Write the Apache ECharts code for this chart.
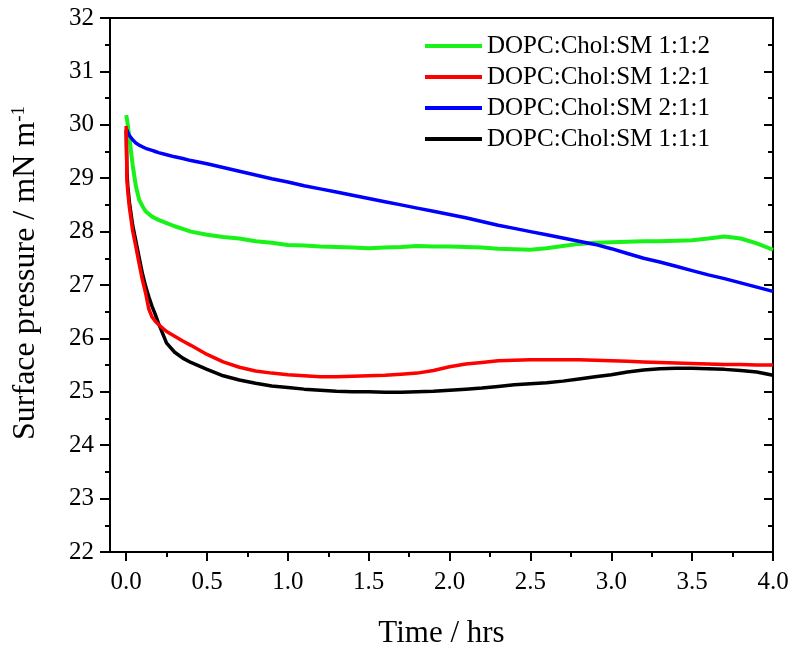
<!DOCTYPE html>
<html>
<head>
<meta charset="utf-8">
<script src="https://cdn.jsdelivr.net/npm/echarts@6/dist/echarts.min.js"></script>
<style>html,body{margin:0;padding:0;background:#fff}#c{width:796px;height:654px}</style>
</head>
<body>
<div id="c"></div>
<script>
// Time (hrs)
const time = [0, 0.005, 0.01, 0.02, 0.04, 0.06, 0.08, 0.1, 0.12, 0.14, 0.16, 0.18, 0.2, 0.25, 0.3, 0.35, 0.4, 0.5, 0.6, 0.7, 0.8, 0.9, 1.0, 1.1, 1.2, 1.3, 1.4, 1.5, 1.6, 1.7, 1.8, 1.9, 2.0, 2.1, 2.2, 2.3, 2.4, 2.5, 2.6, 2.7, 2.8, 2.9, 3.0, 3.1, 3.2, 3.3, 3.4, 3.5, 3.6, 3.7, 3.8, 3.9, 4.0];
// Surface pressure (mN/m)
const green112 = [30.18, 30.1, 30.0, 29.75, 29.25, 28.85, 28.6, 28.48, 28.38, 28.33, 28.28, 28.25, 28.22, 28.16, 28.1, 28.05, 28.0, 27.94, 27.9, 27.87, 27.82, 27.79, 27.75, 27.74, 27.72, 27.71, 27.7, 27.69, 27.7, 27.71, 27.73, 27.72, 27.72, 27.71, 27.7, 27.68, 27.67, 27.66, 27.69, 27.73, 27.77, 27.79, 27.8, 27.81, 27.82, 27.82, 27.83, 27.84, 27.87, 27.91, 27.87, 27.78, 27.66];
const red121 = [29.98, 28.95, 28.75, 28.45, 28.02, 27.72, 27.4, 27.1, 26.85, 26.55, 26.4, 26.32, 26.26, 26.13, 26.04, 25.95, 25.87, 25.7, 25.56, 25.46, 25.39, 25.35, 25.32, 25.3, 25.28, 25.28, 25.29, 25.3, 25.31, 25.33, 25.35, 25.4, 25.47, 25.52, 25.55, 25.58, 25.59, 25.6, 25.6, 25.6, 25.6, 25.59, 25.58, 25.57, 25.56, 25.55, 25.54, 25.53, 25.52, 25.51, 25.51, 25.5, 25.5];
const blue211 = [29.93, 29.9, 29.86, 29.8, 29.72, 29.66, 29.62, 29.59, 29.56, 29.54, 29.52, 29.5, 29.48, 29.44, 29.4, 29.37, 29.33, 29.27, 29.2, 29.13, 29.06, 28.99, 28.93, 28.86, 28.8, 28.74, 28.68, 28.62, 28.56, 28.5, 28.44, 28.38, 28.32, 28.26, 28.19, 28.12, 28.06, 28.0, 27.94, 27.88, 27.82, 27.76, 27.68, 27.59, 27.5, 27.43, 27.35, 27.27, 27.19, 27.12, 27.04, 26.96, 26.88];
const black111 = [29.9, 29.1, 28.85, 28.55, 28.12, 27.82, 27.52, 27.22, 26.98, 26.78, 26.6, 26.45, 26.28, 25.91, 25.74, 25.63, 25.55, 25.42, 25.3, 25.22, 25.16, 25.11, 25.08, 25.05, 25.03, 25.01, 25.0, 25.0, 24.99, 24.99, 25.0, 25.01, 25.03, 25.05, 25.07, 25.1, 25.13, 25.15, 25.17, 25.2, 25.24, 25.28, 25.32, 25.37, 25.41, 25.43, 25.44, 25.44, 25.43, 25.42, 25.4, 25.37, 25.31];
const seriesNames = ['DOPC:Chol:SM 1:1:2', 'DOPC:Chol:SM 1:2:1', 'DOPC:Chol:SM 2:1:1', 'DOPC:Chol:SM 1:1:1'];
const xMajorTicks = [0, 0.5, 1.0, 1.5, 2.0, 2.5, 3.0, 3.5, 4.0];
const xMinorTicks = [0.25, 0.75, 1.25, 1.75, 2.25, 2.75, 3.25, 3.75];

const pair = vals => time.map((t, i) => [t, vals[i]]);
const FONT = '"Liberation Serif", "Times New Roman", serif';
const chart = echarts.init(document.getElementById('c'), null, {renderer: 'canvas'});
const axisLine = {show: true, onZero: false, lineStyle: {color: '#000', width: 2}};
chart.setOption({
  backgroundColor: '#fff',
  animation: false,
  grid: {left: 110, top: 18, right: 23, bottom: 102, outerBoundsMode: 'none', containLabel: false},
  legend: {
    data: seriesNames,
    orient: 'vertical',
    left: 425, top: 33,
    padding: 0,
    itemGap: 5,
    itemWidth: 57, itemHeight: 4,
    icon: 'rect',
    textStyle: {fontFamily: FONT, fontSize: 25, color: '#000', lineHeight: 26}
  },
  xAxis: [
    {
      type: 'value', position: 'bottom', min: -0.1, max: 4.0,
      name: 'Time / hrs', nameLocation: 'middle', nameGap: 66, nameMoveOverlap: false,
      nameTextStyle: {fontFamily: FONT, fontSize: 31, color: '#000'},
      axisLine: axisLine,
      axisTick: {show: true, length: 9, lineStyle: {width: 2, color: '#000'}, customValues: xMajorTicks},
      axisLabel: {customValues: xMajorTicks, formatter: v => v.toFixed(1), fontFamily: FONT, fontSize: 25, color: '#000', margin: 18},
      splitLine: {show: false}
    },
    {
      type: 'value', position: 'bottom', min: -0.1, max: 4.0,
      axisLine: {show: false, onZero: false},
      axisTick: {show: true, length: 5, lineStyle: {width: 2, color: '#000'}, customValues: xMinorTicks},
      axisLabel: {show: false},
      splitLine: {show: false}
    },
    {
      type: 'value', position: 'top', min: -0.1, max: 4.0,
      axisLine: axisLine, axisTick: {show: false}, axisLabel: {show: false}, splitLine: {show: false}
    }
  ],
  yAxis: [
    {
      type: 'value', min: 22, max: 32, interval: 1, position: 'left',
      name: 'Surface pressure / mN m{sup|-1}', nameLocation: 'middle', nameGap: 68, nameRotate: 90,
      nameMoveOverlap: false,
      nameTextStyle: {fontFamily: FONT, fontSize: 32, color: '#000', padding: [0, 0, 0, 24],
        rich: {sup: {fontFamily: FONT, fontSize: 19, color: '#000', verticalAlign: 'top', lineHeight: 32, padding: [0, 0, 10, 0]}}},
      axisLine: axisLine,
      axisTick: {show: true, length: 10, lineStyle: {width: 2, color: '#000'}},
      minorTick: {show: true, splitNumber: 2, length: 5, lineStyle: {width: 2, color: '#000'}},
      axisLabel: {fontFamily: FONT, fontSize: 25, color: '#000', margin: 16},
      splitLine: {show: false}
    },
    {
      type: 'value', min: 22, max: 32, interval: 1, position: 'right',
      axisLine: axisLine,
      axisTick: {show: true, inside: true, length: 9, lineStyle: {width: 2, color: '#000'}},
      minorTick: {show: true, splitNumber: 2, length: 5, lineStyle: {width: 2, color: '#000'}},
      axisLabel: {show: false},
      splitLine: {show: false}
    }
  ],
  series: [
    {name: seriesNames[0], type: 'line', data: pair(green112), showSymbol: false, z: 3, color: '#19f219', lineStyle: {width: 4, color: '#19f219'}},
    {name: seriesNames[1], type: 'line', data: pair(red121), showSymbol: false, z: 5, color: '#ff0000', lineStyle: {width: 3.5, color: '#ff0000'}},
    {name: seriesNames[2], type: 'line', data: pair(blue211), showSymbol: false, z: 4, color: '#0000ff', lineStyle: {width: 3.5, color: '#0000ff'}},
    {name: seriesNames[3], type: 'line', data: pair(black111), showSymbol: false, z: 2, color: '#000000', lineStyle: {width: 3.5, color: '#000'}}
  ]
});
</script>
</body>
</html>
